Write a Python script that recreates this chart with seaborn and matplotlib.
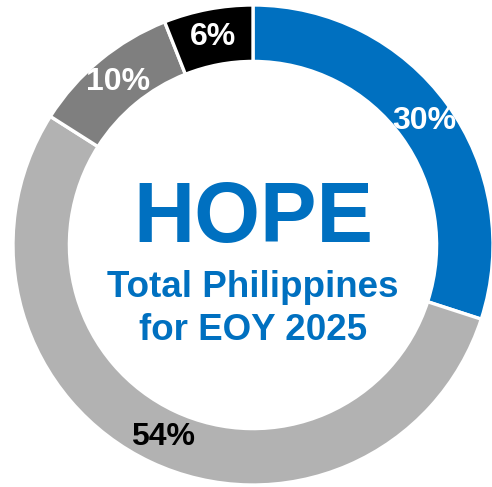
import matplotlib
matplotlib.use("Agg")
import matplotlib.pyplot as plt
import seaborn as sns
import numpy as np

sns.set_theme(style="white")
plt.rcParams['font.family'] = ['Liberation Sans', 'DejaVu Sans']

categories = ["Blue", "Light gray", "Dark gray", "Black"]
values = [30, 54, 10, 6]
labels = ["30%", "54%", "10%", "6%"]
colors = ["#0070C0", "#B2B2B2", "#7F7F7F", "#000000"]
label_colors = ["white", "black", "white", "white"]

W, H = 492, 487
fig = plt.figure(figsize=(W / 100, H / 100), dpi=100)
cx, cy, R = 253, 245, 240
ax = fig.add_axes([(cx - R) / W, (H - cy - R) / H, 2 * R / W, 2 * R / H])

ring = 0.235
wedges, _ = ax.pie(values, colors=colors, startangle=90, counterclock=False,
                   radius=1.0,
                   wedgeprops=dict(width=ring, edgecolor="white", linewidth=2.4))
for w in wedges:
    w.set_clip_on(False)

cum = np.cumsum([0] + values[:-1])
total = sum(values)
for v, c0, lab, lc in zip(values, cum, labels, label_colors):
    ang = np.deg2rad(90 - 360 * (c0 + v / 2) / total)
    r = 1 - ring / 2
    ax.text(r * np.cos(ang), r * np.sin(ang), lab, ha="center", va="center",
            color=lc, fontsize=23, fontweight="bold", clip_on=False)

ax.text(0.0, 0.0125, "HOPE", ha="center", va="baseline", color="#0070C0",
        fontsize=61, fontweight="bold")
ax.text(0.0, -0.217, "Total Philippines", ha="center", va="baseline",
        color="#0070C0", fontsize=26.5, fontweight="bold")
ax.text(0.0, -0.396, "for EOY 2025", ha="center", va="baseline",
        color="#0070C0", fontsize=26.5, fontweight="bold")

ax.set_xlim(-1, 1)
ax.set_ylim(-1, 1)
ax.set_aspect("auto")
ax.axis("off")

fig.savefig("out.png", dpi=100, facecolor="white")
